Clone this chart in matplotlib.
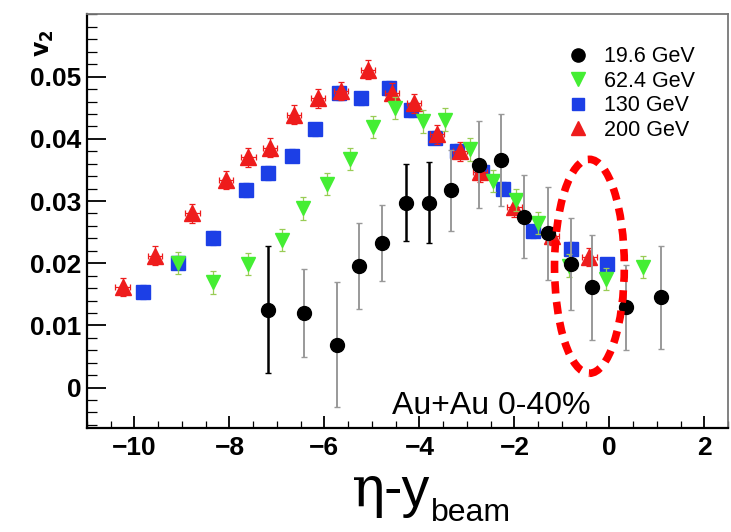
import numpy as np
import matplotlib as mpl
import matplotlib.pyplot as plt
from matplotlib.patches import Ellipse
from matplotlib.ticker import MultipleLocator

mpl.rcParams.update({
    "font.family": ["Liberation Sans", "DejaVu Sans"],
    "xtick.direction": "in", "ytick.direction": "in",
})

RED, GREEN, BLUE = "#ee1c1c", "#44ee33", "#1c3fe6"

# 19.6 GeV (black circles)
x196 = [-7.18, -6.43, -5.74, -5.27, -4.79, -4.29, -3.80, -3.34, -2.75, -2.29,
        -1.80, -1.30, -0.80, -0.36, 0.34, 1.09]
v196 = [0.0125, 0.0120, 0.0069, 0.0196, 0.0232, 0.0297, 0.0297, 0.0317, 0.0358, 0.0366,
        0.0275, 0.0248, 0.0198, 0.0161, 0.0129, 0.0145]
e196 = [0.0102, 0.0071, 0.0100, 0.0069, 0.0061, 0.0062, 0.0065, 0.0065, 0.0070, 0.0074,
        0.0067, 0.0075, 0.0074, 0.0085, 0.0068, 0.0083]
dark196 = [True, False, False, False, False, True, True, False, False, False,
           False, False, False, False, False, False]

# 62.4 GeV (green down triangles)
x624 = [-9.08, -8.34, -7.60, -6.90, -6.45, -5.95, -5.46, -4.98, -4.52, -3.93,
        -3.47, -2.94, -2.46, -1.96, -1.51, -0.84, -0.07, 0.71]
v624 = [0.0200, 0.0169, 0.0199, 0.0237, 0.0288, 0.0327, 0.0368, 0.0419, 0.0450, 0.0428,
        0.0431, 0.0383, 0.0332, 0.0302, 0.0265, 0.0196, 0.0175, 0.0194]

# 130 GeV (blue squares)
x130 = [-9.81, -9.08, -8.35, -7.65, -7.18, -6.68, -6.20, -5.69, -5.23, -4.64,
        -4.18, -3.68, -3.20, -2.69, -2.25, -1.60, -0.80, -0.04]
v130 = [0.0154, 0.0201, 0.0241, 0.0318, 0.0345, 0.0373, 0.0415, 0.0474, 0.0465, 0.0482,
        0.0446, 0.0402, 0.0381, 0.0346, 0.0320, 0.0251, 0.0223, 0.0198]

# 200 GeV (red triangles)
x200 = [-10.25, -9.56, -8.78, -8.07, -7.60, -7.14, -6.64, -6.13, -5.65, -5.08,
        -4.58, -4.12, -3.63, -3.15, -2.73, -2.00, -1.20, -0.42]
v200 = [0.0162, 0.0212, 0.0280, 0.0334, 0.0370, 0.0386, 0.0439, 0.0465, 0.0477, 0.0511,
        0.0474, 0.0457, 0.0407, 0.0380, 0.0346, 0.0290, 0.0244, 0.0210]

LABELS = ["19.6 GeV", "62.4 GeV", "130 GeV", "200 GeV"]

fig = plt.figure(figsize=(7.31, 5.32), dpi=100)
ax = fig.add_axes([0.119, 0.1955, 0.877, 0.7785])

ek = dict(ls="none", capsize=2, elinewidth=0.9, capthick=0.9)
ax.errorbar(x200, v200, yerr=0.0015, xerr=0.15, color=RED, ecolor=RED, marker="^",
            ms=11, mec=RED, zorder=4, **ek)
ax.errorbar(x130, v130, yerr=0.0011, color=BLUE, ecolor=BLUE, marker="s",
            ms=10, mec=BLUE, zorder=3, **ek)
ax.errorbar(x624, v624, yerr=0.0018, color=GREEN, ecolor="#99cc55", marker="v",
            ms=10.5, mec=GREEN, zorder=5, **ek)

x196 = np.array(x196); v196 = np.array(v196); e196 = np.array(e196)
dk = np.array(dark196)
ax.errorbar(x196[dk], v196[dk], yerr=e196[dk], ls="none", marker="none", ecolor="black",
            elinewidth=1.8, capsize=2, capthick=1, zorder=6)
ax.errorbar(x196[~dk], v196[~dk], yerr=e196[~dk], ls="none", marker="none", ecolor="#999999",
            elinewidth=1.4, capsize=2, capthick=1, zorder=6)
ax.plot(x196, v196, ls="none", marker="o", ms=10, color="black", zorder=7)

# highlight ellipse
ell = Ellipse((-0.42, 0.0195), 1.47, 0.0344, angle=0, fill=False, ec="#ff0000",
              lw=5.5, ls=(0, (1.6, 1.1)), zorder=8, clip_on=False)
ax.add_patch(ell)

ax.set_xlim(-11, 2.5)
ax.set_ylim(-0.0065, 0.0601)
ax.set_xticks([-10, -8, -6, -4, -2, 0, 2])
ax.set_yticks([0, 0.01, 0.02, 0.03, 0.04, 0.05])
ax.set_yticklabels(["0", "0.01", "0.02", "0.03", "0.04", "0.05"])
ax.xaxis.set_minor_locator(MultipleLocator(0.5))
ax.yaxis.set_minor_locator(MultipleLocator(0.002))
ax.tick_params(axis="y", which="major", length=14, width=1.3, labelsize=19, pad=4)
ax.tick_params(axis="y", which="minor", length=7, width=0.9)
ax.tick_params(axis="x", which="major", length=9, width=1.3, labelsize=19, pad=6)
ax.tick_params(axis="x", which="minor", length=5, width=0.9)
for lab in ax.get_xticklabels() + ax.get_yticklabels():
    lab.set_fontweight("bold")
for sp in ("left", "bottom"):
    ax.spines[sp].set_linewidth(1.6)
for sp in ("top", "right"):
    ax.spines[sp].set_color("#777777")
    ax.spines[sp].set_linewidth(1.3)

ax.text(-4.58, -0.0043, "Au+Au 0-40%", fontsize=23, ha="left", va="baseline", zorder=9)

h = [
    plt.Line2D([0], [0], ls="none", marker="o", ms=9.5, color="black"),
    plt.Line2D([0], [0], ls="none", marker="v", ms=10, color=GREEN),
    plt.Line2D([0], [0], ls="none", marker="s", ms=9, color=BLUE),
    plt.Line2D([0], [0], ls="none", marker="^", ms=10, color=RED),
]
ax.legend(h, LABELS, loc="upper right", bbox_to_anchor=(0.972, 0.958), frameon=False,
          fontsize=15.5, handlelength=1.2, handletextpad=0.6, labelspacing=0.16,
          borderpad=0.2)

# axis titles
fig.text(0.061, 0.918, r"$\mathbf{v}_{\mathbf{2}}$", rotation=90, fontsize=17,
         ha="center", va="center")
fig.text(0.4815, 0.049, "\u03b7", family=["DejaVu Serif"], fontsize=40,
         ha="left", va="baseline")
fig.text(0.525, 0.049, "-y", fontsize=40, ha="left", va="baseline")
fig.text(0.589, 0.0207, "beam", fontsize=23, ha="left", va="baseline")

fig.savefig("out.png", dpi=100)
